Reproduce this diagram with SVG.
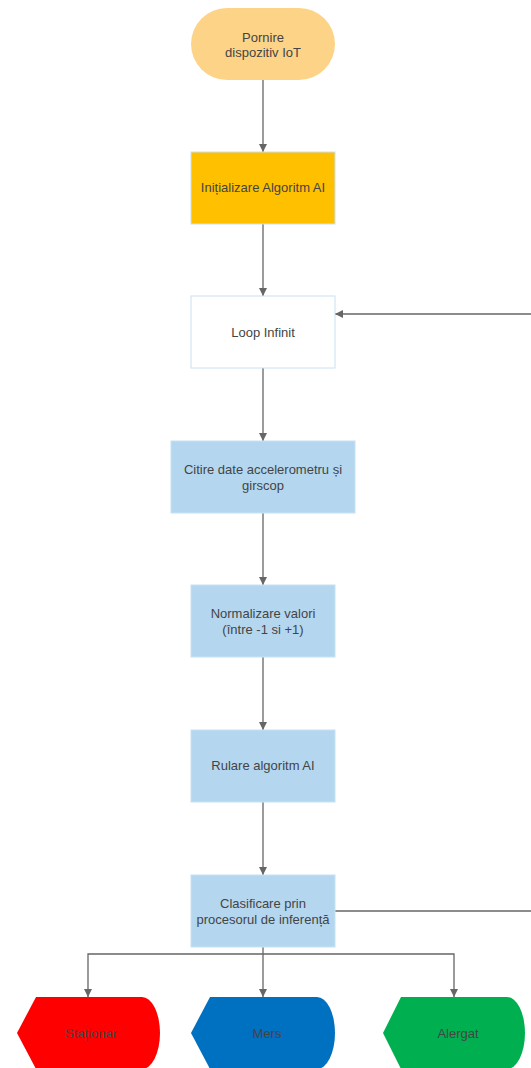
<svg xmlns="http://www.w3.org/2000/svg" width="531" height="1068" viewBox="0 0 531 1068">
  <style>
    .lbl { font-family: "Liberation Sans", Arial, sans-serif; font-size: 13px; fill: #444444; text-anchor: middle; }
    .edge { fill: none; stroke: #666666; stroke-width: 1.3; }
    .proc { fill: #B4D7EF; stroke: #C7E2F4; stroke-width: 1; }
  </style>
  <defs>
    <marker id="arrow" viewBox="0 0 10 10" refX="10" refY="5" markerWidth="8" markerHeight="8" markerUnits="userSpaceOnUse" orient="auto">
      <path d="M0,0 L10,5 L0,10 Z" fill="#666666"/>
    </marker>
  </defs>
  <rect width="531" height="1068" fill="#ffffff"/>

  <g id="connectors">
    <path class="edge" d="M263,80 L263,152" marker-end="url(#arrow)"/>
    <path class="edge" d="M263,224 L263,296" marker-end="url(#arrow)"/>
    <path class="edge" d="M263,368 L263,441" marker-end="url(#arrow)"/>
    <path class="edge" d="M263,513 L263,585" marker-end="url(#arrow)"/>
    <path class="edge" d="M263,657 L263,730" marker-end="url(#arrow)"/>
    <path class="edge" d="M263,802 L263,875" marker-end="url(#arrow)"/>
    <path class="edge" d="M531,314 L335,314" marker-end="url(#arrow)"/>
    <path class="edge" d="M335,911 L531,911"/>
    <path class="edge" d="M263,947 L263,997" marker-end="url(#arrow)"/>
    <path class="edge" d="M263,954 L88,954 L88,997" marker-end="url(#arrow)"/>
    <path class="edge" d="M263,954 L454,954 L454,997" marker-end="url(#arrow)"/>
  </g>

  <g id="start">
    <rect x="191" y="8" width="144" height="72" rx="36" ry="36" fill="#FDD388"/>
    <text class="lbl" x="263" y="42">Pornire</text>
    <text class="lbl" x="263" y="57">dispozitiv IoT</text>
  </g>

  <g id="init">
    <rect x="191" y="152" width="144" height="72" fill="#FFC000" stroke="#C7E2F4"/>
    <text class="lbl" x="263" y="192">Inițializare Algoritm AI</text>
  </g>

  <g id="loop">
    <rect x="191" y="296" width="144" height="72" fill="#ffffff" stroke="#C7E2F4"/>
    <text class="lbl" x="263" y="337">Loop Infinit</text>
  </g>

  <g id="read">
    <rect class="proc" x="171" y="441" width="184" height="72"/>
    <text class="lbl" x="263" y="474">Citire date accelerometru și</text>
    <text class="lbl" x="263" y="490">girscop</text>
  </g>

  <g id="normalize">
    <rect class="proc" x="191" y="585" width="144" height="72"/>
    <text class="lbl" x="263" y="618">Normalizare valori</text>
    <text class="lbl" x="263" y="634">(între -1 si +1)</text>
  </g>

  <g id="run">
    <rect class="proc" x="191" y="730" width="144" height="72"/>
    <text class="lbl" x="263" y="770">Rulare algoritm AI</text>
  </g>

  <g id="classify">
    <rect class="proc" x="191" y="875" width="144" height="72"/>
    <text class="lbl" x="263" y="908">Clasificare prin</text>
    <text class="lbl" x="263" y="924">procesorul de inferență</text>
  </g>

  <g id="stationary">
    <path d="M36,997 L142,997 A18,36 0 0 1 142,1069 L36,1069 L17,1033 Z" fill="#FF0000"/>
    <text class="lbl" x="91" y="1038">Staționar</text>
  </g>

  <g id="walk">
    <path d="M210,997 L317,997 A18,36 0 0 1 317,1069 L210,1069 L191,1033 Z" fill="#0070C0"/>
    <text class="lbl" x="267" y="1038">Mers</text>
  </g>

  <g id="run-state">
    <path d="M401,997 L507,997 A18,36 0 0 1 507,1069 L401,1069 L383,1033 Z" fill="#00B050"/>
    <text class="lbl" x="458" y="1038">Alergat</text>
  </g>
</svg>
